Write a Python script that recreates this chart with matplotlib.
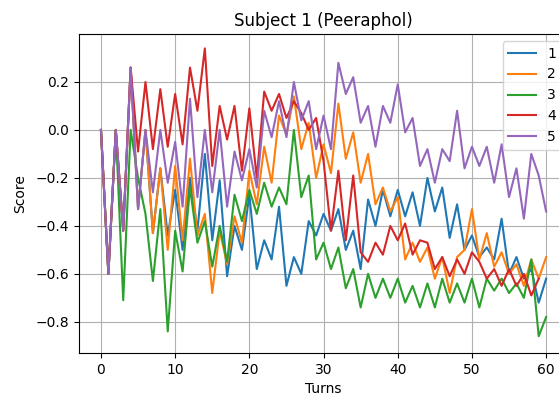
import numpy as np
import matplotlib
matplotlib.use('Agg')
import matplotlib.pyplot as plt

# Score per turn for each run
turns = np.arange(61)

run1 = [0.0, -0.6, 0.0, -0.42, 0.26, -0.33, 0.0, -0.43, -0.16, -0.44,
        -0.25, -0.5, -0.2, -0.42, -0.1, -0.46, -0.21, -0.61, -0.4, -0.5,
        -0.27, -0.58, -0.46, -0.54, -0.32, -0.65, -0.53, -0.6, -0.38, -0.44,
        -0.35, -0.42, -0.33, -0.5, -0.42, -0.58, -0.29, -0.4, -0.25, -0.36,
        -0.25, -0.36, -0.26, -0.4, -0.2, -0.34, -0.24, -0.45, -0.31, -0.5,
        -0.44, -0.53, -0.49, -0.54, -0.37, -0.6, -0.53, -0.62, -0.58, -0.72,
        -0.62]
run2 = [0.0, -0.6, 0.0, -0.42, 0.26, -0.33, 0.0, -0.43, -0.16, -0.5,
        -0.15, -0.46, -0.12, -0.44, -0.35, -0.68, -0.42, -0.56, -0.36, -0.47,
        -0.17, -0.31, -0.07, -0.22, 0.06, -0.02, 0.14, -0.08, 0.03, -0.2,
        -0.06, -0.18, 0.11, -0.12, -0.01, -0.22, -0.1, -0.31, -0.24, -0.34,
        -0.28, -0.54, -0.47, -0.55, -0.49, -0.62, -0.53, -0.68, -0.53, -0.5,
        -0.33, -0.54, -0.43, -0.57, -0.51, -0.6, -0.56, -0.65, -0.54, -0.62,
        -0.53]
run3 = [0.0, -0.6, 0.0, -0.71, 0.0, -0.2, -0.35, -0.63, -0.33, -0.84,
        -0.42, -0.59, -0.24, -0.47, -0.38, -0.57, -0.4, -0.55, -0.27, -0.38,
        -0.25, -0.35, -0.22, -0.32, -0.24, -0.31, 0.0, -0.28, -0.19, -0.54,
        -0.47, -0.58, -0.49, -0.66, -0.58, -0.74, -0.6, -0.7, -0.62, -0.7,
        -0.62, -0.72, -0.65, -0.74, -0.64, -0.74, -0.62, -0.72, -0.64, -0.72,
        -0.62, -0.74, -0.62, -0.67, -0.62, -0.68, -0.64, -0.7, -0.54, -0.86,
        -0.78]
run4 = [0.0, -0.6, 0.0, -0.42, 0.26, -0.09, 0.2, -0.08, 0.17, -0.07,
        0.15, -0.06, 0.26, 0.08, 0.34, -0.15, 0.1, -0.04, 0.1, -0.17,
        0.09, -0.2, 0.16, 0.08, 0.15, 0.05, 0.12, 0.07, 0.0, 0.05,
        -0.13, -0.42, -0.17, -0.46, -0.19, -0.51, -0.55, -0.47, -0.52, -0.4,
        -0.46, -0.39, -0.52, -0.46, -0.47, -0.58, -0.53, -0.61, -0.54, -0.6,
        -0.51, -0.55, -0.62, -0.58, -0.65, -0.58, -0.65, -0.6, -0.69, -0.62]
run5 = [0.0, -0.6, 0.0, -0.42, 0.26, -0.33, 0.0, -0.26, 0.0, -0.22,
        -0.05, -0.32, 0.13, -0.28, 0.0, -0.26, 0.0, -0.32, -0.09, -0.21,
        -0.08, -0.24, 0.08, -0.03, 0.12, -0.03, 0.2, 0.04, 0.12, -0.08,
        0.06, -0.08, 0.28, 0.15, 0.22, 0.03, 0.1, -0.07, 0.1, 0.03,
        0.19, -0.01, 0.05, -0.15, -0.08, -0.22, -0.08, -0.13, 0.08, -0.16,
        -0.07, -0.15, -0.07, -0.22, -0.06, -0.28, -0.16, -0.37, -0.1, -0.19,
        -0.34]
labels = ['1', '2', '3', '4', '5']


def main():
    fig = plt.figure(figsize=(5.59, 3.95), dpi=100)
    # axes runs past the right edge, like the cropped original
    ax = fig.add_axes([0.1408, 0.1063, 0.876, 0.8076])

    for runs, lab in zip([run1, run2, run3, run4, run5], labels):
        ax.plot(turns[:len(runs)], runs, label=lab)

    ax.set_title('Subject 1 (Peeraphol)')
    ax.set_xlabel('Turns')
    ax.set_ylabel('Score', labelpad=6)
    ax.set_xlim(-3, 63)
    ax.set_ylim(-0.93, 0.40)
    ax.set_xticks([0, 10, 20, 30, 40, 50, 60])
    ax.set_yticks([-0.8, -0.6, -0.4, -0.2, 0.0, 0.2])
    ax.grid(True)
    ax.legend(loc='upper right')

    fig.savefig('out.png', dpi=100)


if (__name__ == "__main__"):
    main()
